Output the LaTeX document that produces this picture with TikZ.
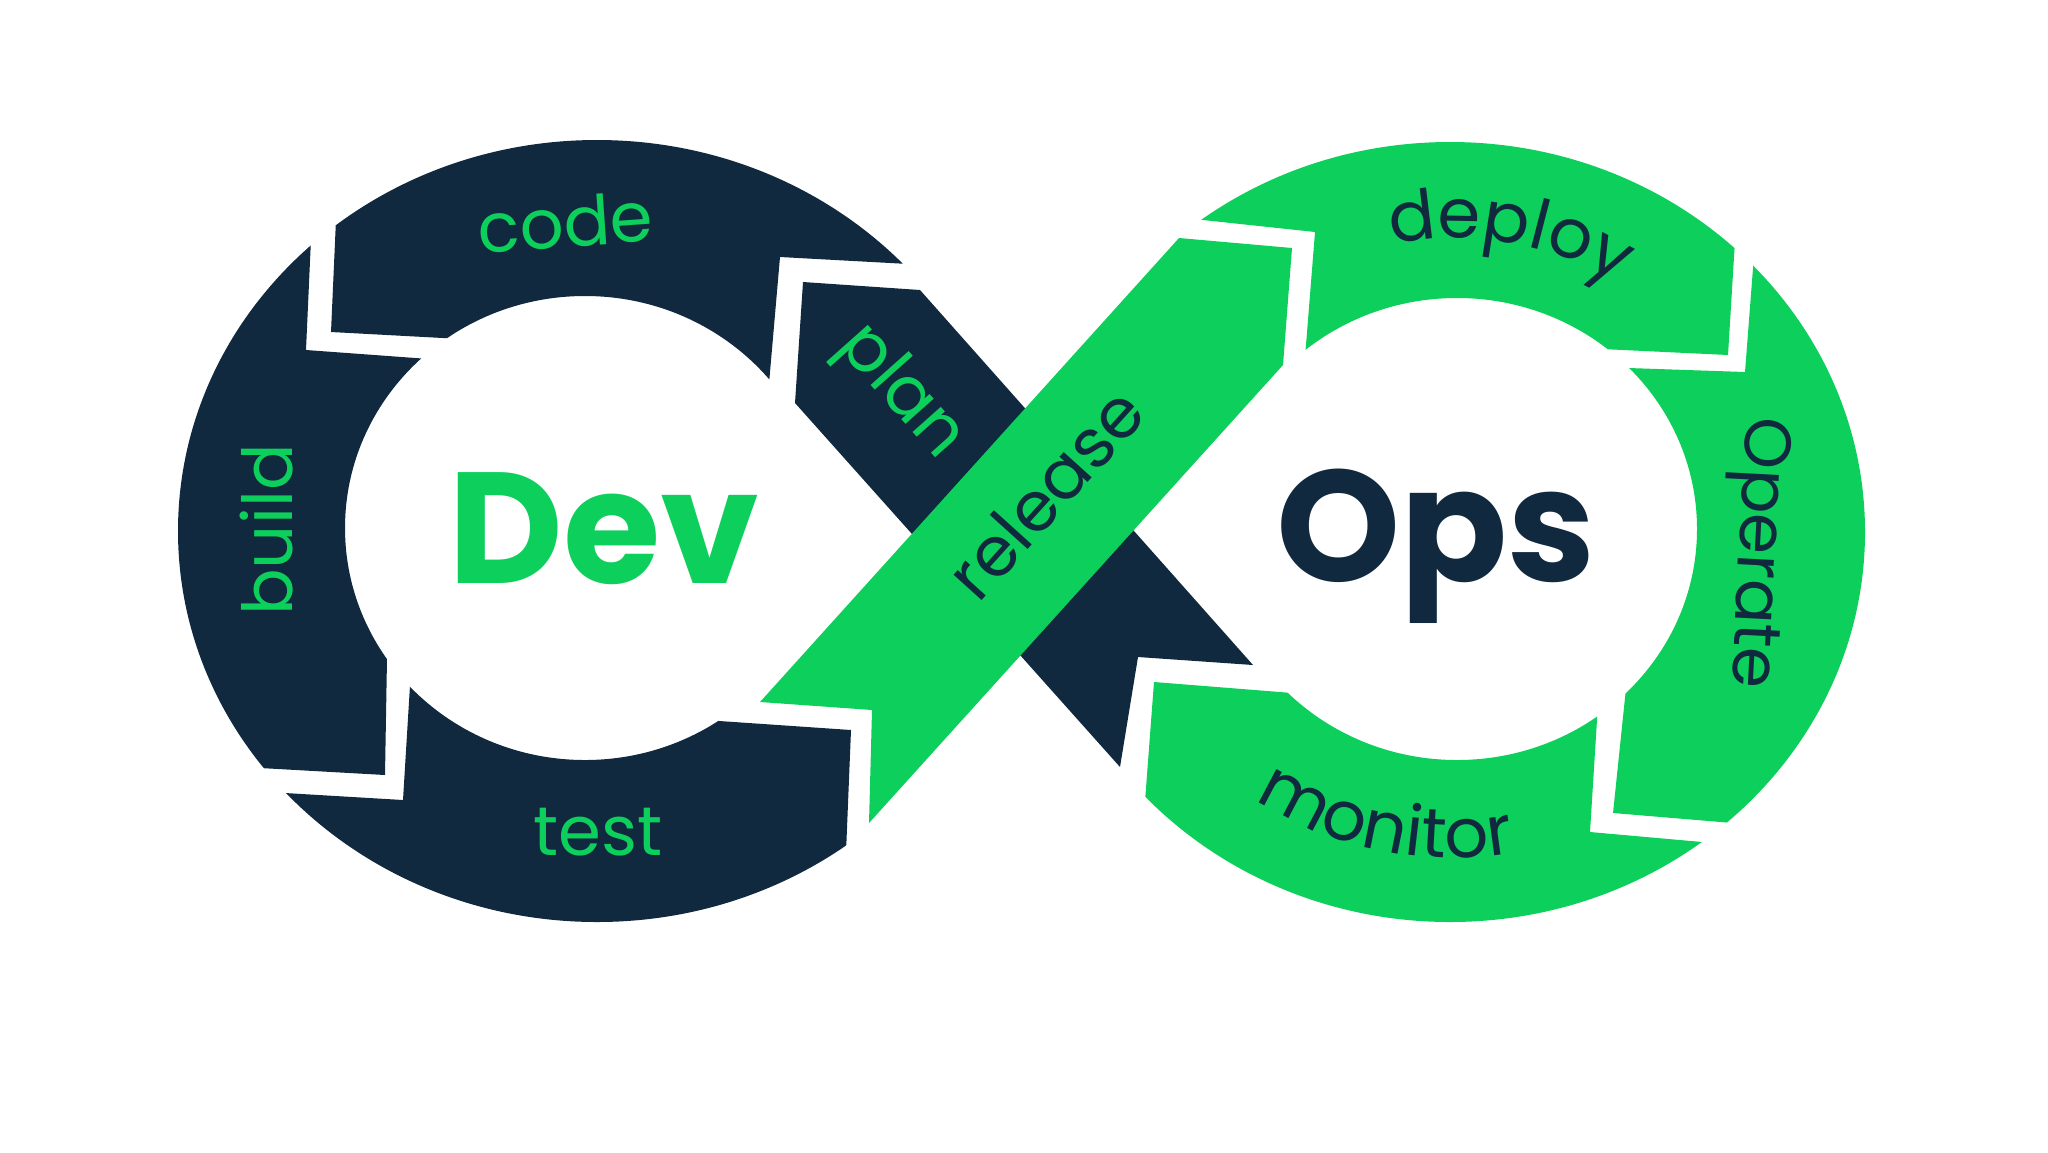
\documentclass[tikz,border=0pt]{standalone}
\usepackage{fontspec}
\setmainfont{Poppins}
\newfontfamily\popfont{Poppins}
\usetikzlibrary{decorations.text}
\definecolor{navy}{HTML}{11293F}
\definecolor{dgreen}{HTML}{0DD05C}
\newcommand\lblfont{\popfont\fontsize{34.5}{40}\selectfont}
\newcommand\oplblfont{\popfont\fontsize{33}{38}\selectfont}
\newcommand\bigfont{\popfont\bfseries\fontsize{79}{90}\selectfont}
\begin{document}
\begin{tikzpicture}[x=0.5pt,y=-0.5pt,
  lbl/.style={font=\lblfont, inner sep=0pt, anchor=base},
  big/.style={font=\bigfont, inner sep=0pt, anchor=base}]
\fill[white] (0,0) rectangle (2048,1152);
\useasboundingbox (0,0) rectangle (2048,1152);

% ---------- left loop (Dev) ----------
% code
\begin{scope}
\clip (1000,269) -- (780,257) -- (760,487) -- (585,528) -- (480,340) -- (331,332) -- (344,40) -- (1000,40) -- cycle;
\fill[navy,even odd rule] (597,531) ellipse [x radius=419, y radius=391] (585,528) ellipse [x radius=240, y radius=232];
\end{scope}
% build
\begin{scope}
\clip (315,150) -- (306,350) -- (470,362) -- (585,528) -- (388,600) -- (385,775) -- (100,759) -- (100,150) -- cycle;
\fill[navy,even odd rule] (597,531) ellipse [x radius=419, y radius=391] (585,528) ellipse [x radius=240, y radius=232];
\end{scope}
% test
\begin{scope}
\clip (414,620) -- (403,800) -- (150,785) -- (150,1000) -- (840,1000) -- (851,730) -- (690,719) -- (585,528) -- cycle;
\fill[navy,even odd rule] (597,531) ellipse [x radius=419, y radius=391] (585,528) ellipse [x radius=240, y radius=232];
\end{scope}

% ---------- right loop (Ops) ----------
% deploy
\begin{scope}
\clip (1100,209) -- (1315,232) -- (1300,420) -- (1457,529) -- (1560,347) -- (1728,355) -- (1746,60) -- (1100,60) -- cycle;
\fill[dgreen,even odd rule] (1450,532) ellipse [x radius=415, y radius=390] (1457,529) ellipse [x radius=240, y radius=231];
\end{scope}
% operate
\begin{scope}
\clip (1769,60) -- (1745,372) -- (1570,366) -- (1457,529) -- (1631,640) -- (1613,813) -- (1960,842) -- (1960,60) -- cycle;
\fill[dgreen,even odd rule] (1450,532) ellipse [x radius=415, y radius=390] (1457,529) ellipse [x radius=240, y radius=231];
\end{scope}
% monitor
\begin{scope}
\clip (1602,640) -- (1590,832) -- (1960,865) -- (1960,1000) -- (1130,1000) -- (1154,682) -- (1330,696) -- (1457,529) -- cycle;
\fill[dgreen,even odd rule] (1450,532) ellipse [x radius=415, y radius=390] (1457,529) ellipse [x radius=240, y radius=231];
\end{scope}

% ---------- crossing bands ----------
\fill[navy] (803,282) -- (920,290) -- (1253,665) -- (1138,657) -- (1120,767) -- (795,403) -- cycle;
\fill[dgreen] (1179,238) -- (1292,248) -- (1283,365) -- (869,823) -- (872,710) -- (760,702) -- cycle;

% ---------- labels ----------
\node[lbl, text=dgreen, rotate=4] (code) at (567,247) {code};
\node[lbl, text=dgreen, rotate=90] (build) at (292,530) {build};
\node[lbl, text=dgreen] (test) at (598,855) {test};
\node[lbl, text=dgreen, rotate=-48.3] (plan) at (888,404) {plan};
\node[lbl, text=navy, rotate=47.9] (release) at (1064,510) {release};
\node[lbl, font=\oplblfont, text=navy, rotate=-93] (operate) at (1739,552) {Operate};
\path[decorate, decoration={text along path, text={|\lblfont|deploy}, text align={center}, text color=navy}]
  (1453,530) ++(241.6:309 and 292) arc[start angle=241.6, end angle=319.6, x radius=309, y radius=292];
\path[decorate, decoration={text along path, text={|\lblfont|monitor}, text align={center}, text color=navy}]
  (1453,530) ++(142.5:345 and 328) arc[start angle=142.5, end angle=62.5, x radius=345, y radius=328];

\node[big, text=dgreen] (dev) at (604,583) {Dev};
\node[big, text=navy] (ops) at (1436,581) {Ops};
\end{tikzpicture}
\end{document}
